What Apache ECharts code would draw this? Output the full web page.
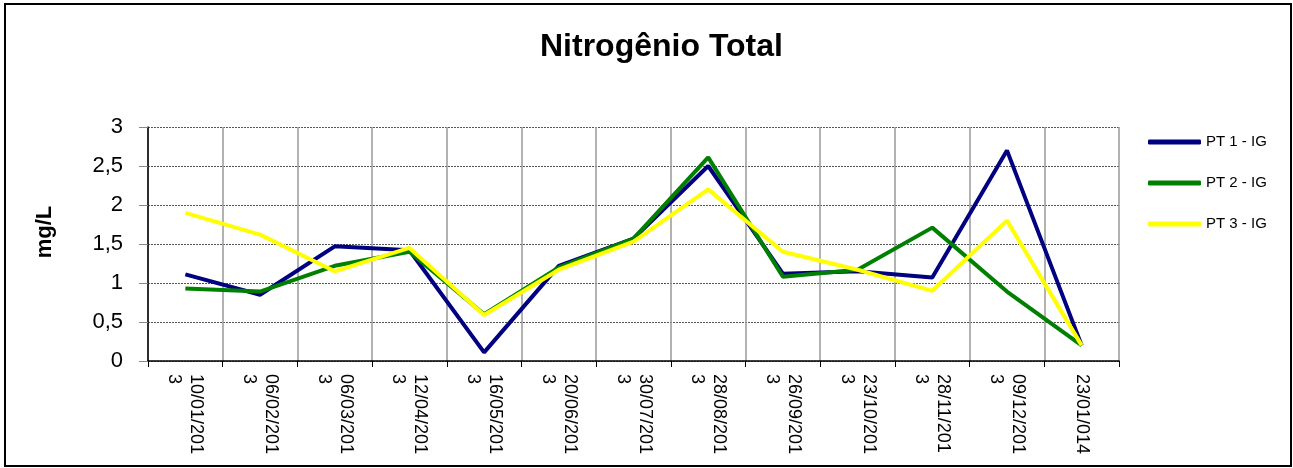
<!DOCTYPE html>
<html>
<head>
<meta charset="utf-8">
<script src="https://cdn.jsdelivr.net/npm/echarts@6/dist/echarts.min.js"></script>
<style>
  html, body { margin: 0; padding: 0; background: #fff; }
  #main { width: 1293px; height: 468px; }
</style>
</head>
<body>
<div id="main"></div>
<script>
const categories = [
  '10/01/201\n3', '06/02/201\n3', '06/03/201\n3', '12/04/201\n3', '16/05/201\n3',
  '20/06/201\n3', '30/07/201\n3', '28/08/201\n3', '26/09/201\n3', '23/10/201\n3',
  '28/11/201\n3', '09/12/201\n3', '23/01/014'
]
const pt1 = [1.11, 0.85, 1.47, 1.42, 0.11, 1.22, 1.57, 2.5, 1.12, 1.15, 1.07, 2.7, 0.2]
const pt2 = [0.93, 0.89, 1.22, 1.4, 0.6, 1.2, 1.57, 2.61, 1.08, 1.17, 1.71, 0.89, 0.2]
const pt3 = [1.9, 1.62, 1.15, 1.45, 0.59, 1.17, 1.53, 2.2, 1.4, 1.17, 0.9, 1.8, 0.2]
const yTicks = [0, 0.5, 1, 1.5, 2, 2.5, 3]

const seriesNames = ['PT 1 - IG', 'PT 2 - IG', 'PT 3 - IG']
const seriesColors = ['#000080', '#008000', '#ffff00']

const myChart = echarts.init(document.getElementById('main'))

const makeLine = (name, data, color) => ({
  name: name,
  type: 'line',
  data: data,
  symbol: 'none',
  lineStyle: { width: 4, color: color },
  itemStyle: { color: color }
})

const option = {
  animation: false,
  backgroundColor: '#fff',
  title: {
    text: 'Nitrogênio Total',
    left: 540,
    top: 31,
    padding: 0,
    textStyle: {
      fontFamily: 'Liberation Sans',
      fontWeight: 'bold',
      fontSize: 32,
      color: '#000'
    }
  },
  legend: {
    orient: 'vertical',
    left: 1148,
    top: 134,
    padding: 0,
    itemWidth: 53,
    itemHeight: 5,
    itemGap: 25,
    icon: 'roundRect',
    data: seriesNames,
    textStyle: {
      fontFamily: 'Liberation Sans',
      fontSize: 15,
      lineHeight: 16,
      color: '#000'
    }
  },
  grid: {
    left: 148,
    right: 174,
    top: 127,
    height: 234
  },
  xAxis: {
    type: 'category',
    data: categories,
    boundaryGap: true,
    axisLine: { lineStyle: { color: '#000', width: 1.5 } },
    axisTick: { show: true, length: 6, lineStyle: { color: '#000' } },
    splitLine: { show: true, lineStyle: { color: '#999', width: 1.5 } },
    axisLabel: {
      rotate: -90,
      interval: 0,
      margin: 13,
      fontFamily: 'Liberation Sans',
      fontSize: 18,
      lineHeight: 22,
      color: '#000'
    }
  },
  yAxis: {
    type: 'value',
    min: yTicks[0],
    max: yTicks[yTicks.length - 1],
    interval: 0.5,
    name: 'mg/L',
    nameLocation: 'middle',
    nameGap: 92,
    nameRotate: 90,
    nameTextStyle: {
      fontFamily: 'Liberation Sans',
      fontWeight: 'bold',
      fontSize: 22,
      color: '#000',
      padding: [0, 0, 0, 24]
    },
    axisLine: { show: true, lineStyle: { color: '#000', width: 1.5 } },
    axisTick: { show: true, length: 9, lineStyle: { color: '#888' } },
    splitLine: { show: true, lineStyle: { color: '#555', type: [2, 1], width: 1 } },
    axisLabel: {
      margin: 25,
      fontFamily: 'Liberation Sans',
      fontSize: 22,
      color: '#000',
      formatter: v => String(v).replace('.', ',')
    }
  },
  graphic: [
    {
      type: 'rect',
      shape: { x: 5, y: 4, width: 1286, height: 462 },
      style: { fill: null, stroke: '#000', lineWidth: 2 },
      silent: true
    }
  ],
  series: [
    makeLine(seriesNames[0], pt1, seriesColors[0]),
    makeLine(seriesNames[1], pt2, seriesColors[1]),
    makeLine(seriesNames[2], pt3, seriesColors[2])
  ]
}

option && myChart.setOption(option)
</script>
</body>
</html>
